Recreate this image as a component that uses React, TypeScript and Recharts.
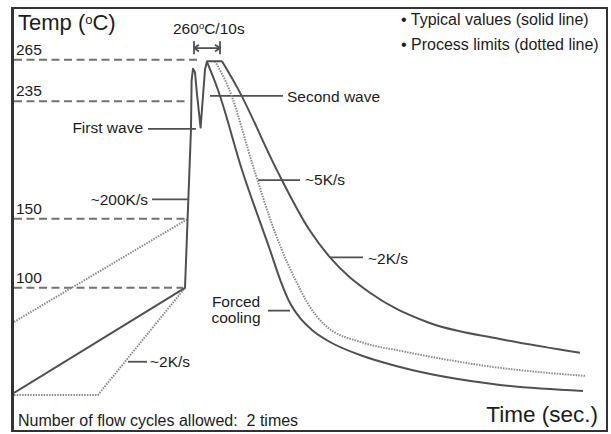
import { LineChart, Line, XAxis, YAxis, ReferenceLine } from 'recharts'

// temperature levels marked on the axis and where each dashed level line stops (sec)
const levelTemps = [265, 235, 150, 100]
const levelEnds = [91.5, 87, 85.5, 84.5]

// typical profile: preheat ramp, first wave, second wave, plateau
const rampTime = [0, 85.5, 88.5, 88.8, 89.5, 90.5, 91.5, 93.3, 95.5, 96.5, 104]
const rampTemp = [24, 100, 215, 250, 258.5, 256, 240, 216, 258, 264, 264]

// typical cooling (~5K/s, then ~2K/s)
const coolTime = [104, 112, 131.5, 147.5, 158, 178, 206.5, 243, 283]
const coolTemp = [264, 244, 185, 142.4, 122, 96.4, 75.3, 63, 53]

// forced cooling
const forcedTime = [96.5, 102, 114, 128, 133.5, 138, 143, 149, 158, 173, 193, 243, 284.5]
const forcedTemp = [263.5, 243.2, 185.3, 127.4, 104.2, 89, 78.2, 69.5, 60.8, 51.4, 42.7, 29.7, 25.3]

// process limits (dotted)
const limitCoolTime = [100.5, 107.5, 120, 130.5, 143, 148, 155.5, 174.5, 193, 243, 285.5]
const limitCoolTemp = [264, 244, 185.9, 140, 99.2, 86.1, 73, 60.3, 54.5, 42.1, 36.3]
const limitLowTime = [0, 42, 85.5]
const limitLowTemp = [22.5, 22.5, 100]
const limitHighTime = [0, 86.5]
const limitHighTemp = [75.3, 149.5]

// annotation pointer lines: [from sec, to sec, at °C]
const pointers = [
  [67, 91, 215], // First wave
  [69, 87, 164], // ~200K/s
  [98, 134.5, 239], // Second wave
  [122, 143, 178], // ~5K/s
  [158, 174.5, 122], // ~2K/s
  [127, 138, 83.5], // Forced cooling
  [57, 66.5, 46.5], // ~2K/s preheat
]

// 260°C/10s marker
const holdStart = 90
const holdEnd = 103
const holdLevel = 273.5

const zip = (ts: number[], vs: number[]) => ts.map((t, i) => ({ t, T: vs[i] }))

const SOLID = '#505050'
const DOTTED = '#8a8a8a'
const TEXT = '#1c1c1c'

const txt = (extra: any): any => ({
  position: 'absolute',
  whiteSpace: 'pre',
  lineHeight: 1,
  color: TEXT,
  fontSize: 15.5,
  ...extra,
})

const renderLevelTick = (props: any) => {
  const { y, payload } = props
  return (
    <text x={16} y={y - 5} fontSize={15.5} fill={TEXT}>
      {payload.value}
    </text>
  )
}

export default function App() {
  const seg = (t1: number, T1: number, t2: number, T2: number, key: string) => (
    <ReferenceLine
      key={key}
      segment={[{ x: t1, y: T1 }, { x: t2, y: T2 }]}
      stroke={SOLID}
      strokeWidth={1.8}
    />
  )
  return (
    <div
      style={{
        position: 'absolute',
        left: 0,
        top: 0,
        width: 611,
        height: 434,
        background: '#fff',
        fontFamily: '"Liberation Sans", Arial, sans-serif',
      }}
    >
      <LineChart width={611} height={434} margin={{ top: 11.5, right: 7, bottom: 8, left: 12 }}>
        <XAxis type="number" dataKey="t" domain={[0, 295]} hide allowDataOverflow />
        <YAxis
          type="number"
          domain={[0, 300]}
          ticks={levelTemps}
          interval={0}
          width={2}
          axisLine={false}
          tickLine={false}
          tick={renderLevelTick}
        />
        {levelTemps.map((v, i) => (
          <ReferenceLine
            key={'lv' + v}
            segment={[{ x: 0, y: v }, { x: levelEnds[i], y: v }]}
            stroke="#727272"
            strokeWidth={2}
            strokeDasharray="8 4.5"
          />
        ))}
        {pointers.map((p, i) => seg(p[0], p[2], p[1], p[2], 'pt' + i))}
        {seg(holdStart, holdLevel, holdEnd, holdLevel, 'h0')}
        {seg(holdStart, holdLevel - 4.5, holdStart, holdLevel + 5, 'h1')}
        {seg(holdEnd, holdLevel - 4.5, holdEnd, holdLevel + 5, 'h2')}
        {seg(holdStart, holdLevel, holdStart + 2.5, holdLevel + 2.5, 'h3')}
        {seg(holdStart, holdLevel, holdStart + 2.5, holdLevel - 2.5, 'h4')}
        {seg(holdEnd, holdLevel, holdEnd - 2.5, holdLevel + 2.5, 'h5')}
        {seg(holdEnd, holdLevel, holdEnd - 2.5, holdLevel - 2.5, 'h6')}
        <Line data={zip(limitLowTime, limitLowTemp)} dataKey="T" type="linear" stroke={DOTTED} strokeWidth={2} strokeDasharray="1.5 1.2" dot={false} isAnimationActive={false} />
        <Line data={zip(limitHighTime, limitHighTemp)} dataKey="T" type="linear" stroke={DOTTED} strokeWidth={2} strokeDasharray="1.5 1.2" dot={false} isAnimationActive={false} />
        <Line data={zip(limitCoolTime, limitCoolTemp)} dataKey="T" type="monotone" stroke={DOTTED} strokeWidth={2} strokeDasharray="1.5 1.2" dot={false} isAnimationActive={false} />
        <Line data={zip(rampTime, rampTemp)} dataKey="T" type="linear" stroke={SOLID} strokeWidth={2} strokeLinejoin="round" dot={false} isAnimationActive={false} />
        <Line data={zip(coolTime, coolTemp)} dataKey="T" type="monotone" stroke={SOLID} strokeWidth={2} dot={false} isAnimationActive={false} />
        <Line data={zip(forcedTime, forcedTemp)} dataKey="T" type="monotone" stroke={SOLID} strokeWidth={2} dot={false} isAnimationActive={false} />
      </LineChart>

      <div
        style={{
          position: 'absolute',
          left: 11,
          top: 7,
          width: 597,
          height: 425,
          boxSizing: 'border-box',
          border: '2px solid #333',
          borderLeft: '3px solid #333',
          pointerEvents: 'none',
        }}
      />

      <div style={txt({ left: 18, top: 12, fontSize: 22 })}>
        Temp (<sup style={{ fontSize: 13, verticalAlign: 'top', lineHeight: 1.3 }}>o</sup>C)
      </div>
      <div style={txt({ left: 173, top: 20.5 })}>
        260<sup style={{ fontSize: 9.5, verticalAlign: 'top' }}>o</sup>C/10s
      </div>
      <div style={txt({ left: 401, top: 12.2, fontSize: 16 })}>• Typical values (solid line)</div>
      <div style={txt({ left: 401, top: 37.2, fontSize: 16 })}>• Process limits (dotted line)</div>
      <div style={txt({ right: 611 - 143, top: 120.4 })}>First wave</div>
      <div style={txt({ right: 611 - 148, top: 192.4 })}>~200K/s</div>
      <div style={txt({ left: 287, top: 89.4 })}>Second wave</div>
      <div style={txt({ left: 305, top: 172.4 })}>~5K/s</div>
      <div style={txt({ left: 368, top: 251.4 })}>~2K/s</div>
      <div style={txt({ left: 200, top: 294.4, width: 72, textAlign: 'center', lineHeight: '15.5px' })}>
        {'Forced\ncooling'}
      </div>
      <div style={txt({ left: 150, top: 354.4 })}>~2K/s</div>
      <div style={txt({ left: 18, top: 413.2, fontSize: 16 })}>Number of flow cycles allowed:  2 times</div>
      <div style={txt({ right: 611 - 598, top: 403.7, fontSize: 22.5 })}>Time (sec.)</div>
    </div>
  )
}
